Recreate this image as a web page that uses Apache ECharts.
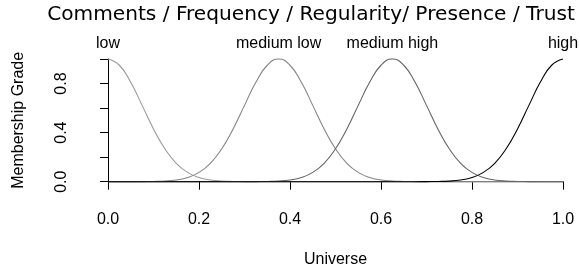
<!DOCTYPE html>
<html>
<head>
<meta charset="utf-8">
<script src="https://cdn.jsdelivr.net/npm/echarts@6/dist/echarts.min.js"></script>
<style>html,body{margin:0;padding:0;background:#fff}#c{width:580px;height:273px}</style>
</head>
<body>
<div id="c"></div>
<script>
const titleText = 'Comments / Frequency / Regularity/ Presence / Trust';
const xName = 'Universe';
const yName = 'Membership Grade';
const setNames = ['low', 'medium low', 'medium high', 'high'];
const setCenters = [0, 0.375, 0.625, 1.0];
const universe = [0,0.025,0.05,0.075,0.1,0.125,0.15,0.175,0.2,0.225,0.25,0.275,0.3,0.325,0.35,0.375,0.4,0.425,0.45,0.475,0.5,0.525,0.55,0.575,0.6,0.625,0.65,0.675,0.7,0.725,0.75,0.775,0.8,0.825,0.85,0.875,0.9,0.925,0.95,0.975,1.0];
const low = [1,0.949,0.810,0.622,0.430,0.268,0.150,0.076,0.034,0.014,0.005,0.002,0.001,0,0,0,0,0,0,0,0,0,0,0,0,0,0,0,0,0,0,0,0,0,0,0,0,0,0,0,0];
const mediumLow = [0,0,0,0.001,0.002,0.005,0.014,0.034,0.076,0.150,0.268,0.430,0.622,0.810,0.949,1,0.949,0.810,0.622,0.430,0.268,0.150,0.076,0.034,0.014,0.005,0.002,0.001,0,0,0,0,0,0,0,0,0,0,0,0,0];
const mediumHigh = [0,0,0,0,0,0,0,0,0,0,0,0,0,0.001,0.002,0.005,0.014,0.034,0.076,0.150,0.268,0.430,0.622,0.810,0.949,1,0.949,0.810,0.622,0.430,0.268,0.150,0.076,0.034,0.014,0.005,0.002,0.001,0,0,0];
const high = [0,0,0,0,0,0,0,0,0,0,0,0,0,0,0,0,0,0,0,0,0,0,0,0,0,0,0,0,0.001,0.002,0.005,0.014,0.034,0.076,0.150,0.268,0.430,0.622,0.810,0.949,1];
const seriesValues = [low, mediumLow, mediumHigh, high];
const colors = ['#9a9a9a', '#858585', '#656565', '#000000'];

const chart = echarts.init(document.getElementById('c'), null, {renderer: 'canvas'});
const font = 'Liberation Sans, Arial, sans-serif';
const series = seriesValues.map((vals, i) => ({
  type: 'line',
  name: setNames[i],
  data: universe.map((x, j) => [x, vals[j]]),
  smooth: 0.5,
  showSymbol: false,
  symbol: 'none',
  clip: false,
  z: 2 + i,
  lineStyle: {color: colors[i], width: 1.1},
  markPoint: {
    symbol: 'circle', symbolSize: 0,
    data: [{coord: [setCenters[i], 1]}],
    label: {show: true, position: 'top', distance: 7, formatter: setNames[i], color: '#000', fontFamily: font, fontSize: 16}
  }
}));
chart.setOption({
  animation: false,
  backgroundColor: '#fff',
  title: {
    text: titleText, left: 306, top: 0, textAlign: 'center',
    textStyle: {fontFamily: 'DejaVu Sans', fontWeight: 'normal', fontSize: 20.15, color: '#000'}
  },
  grid: {left: 108, right: 17, top: 59, bottom: 91.3},
  xAxis: {
    type: 'value', min: 0, max: 1, interval: 0.2, offset: 5.3,
    name: xName, nameLocation: 'middle', nameGap: 65,
    nameTextStyle: {fontFamily: font, fontSize: 16, color: '#000'},
    axisLine: {show: true, lineStyle: {color: '#000', width: 1}},
    axisTick: {show: true, length: 8, lineStyle: {color: '#000'}},
    axisLabel: {fontFamily: font, fontSize: 16, color: '#000', margin: 25, formatter: v => v.toFixed(1)},
    splitLine: {show: false}
  },
  yAxis: {
    type: 'value', min: 0, max: 1, interval: 0.2, offset: 18,
    name: yName, nameLocation: 'middle', nameGap: 63, nameRotate: 90,
    nameTextStyle: {fontFamily: font, fontSize: 16, color: '#000'},
    axisLine: {show: true, lineStyle: {color: '#000', width: 1}},
    axisTick: {show: true, length: 8, lineStyle: {color: '#000'}},
    axisLabel: {fontFamily: font, fontSize: 16, color: '#000', margin: 20, rotate: 90,
      formatter: v => (Math.abs(v * 10 % 4) < 1e-6 ? v.toFixed(1) : ''), showMinLabel: true, showMaxLabel: true},
    splitLine: {show: false}
  },
  series: series
});
</script>
</body>
</html>
